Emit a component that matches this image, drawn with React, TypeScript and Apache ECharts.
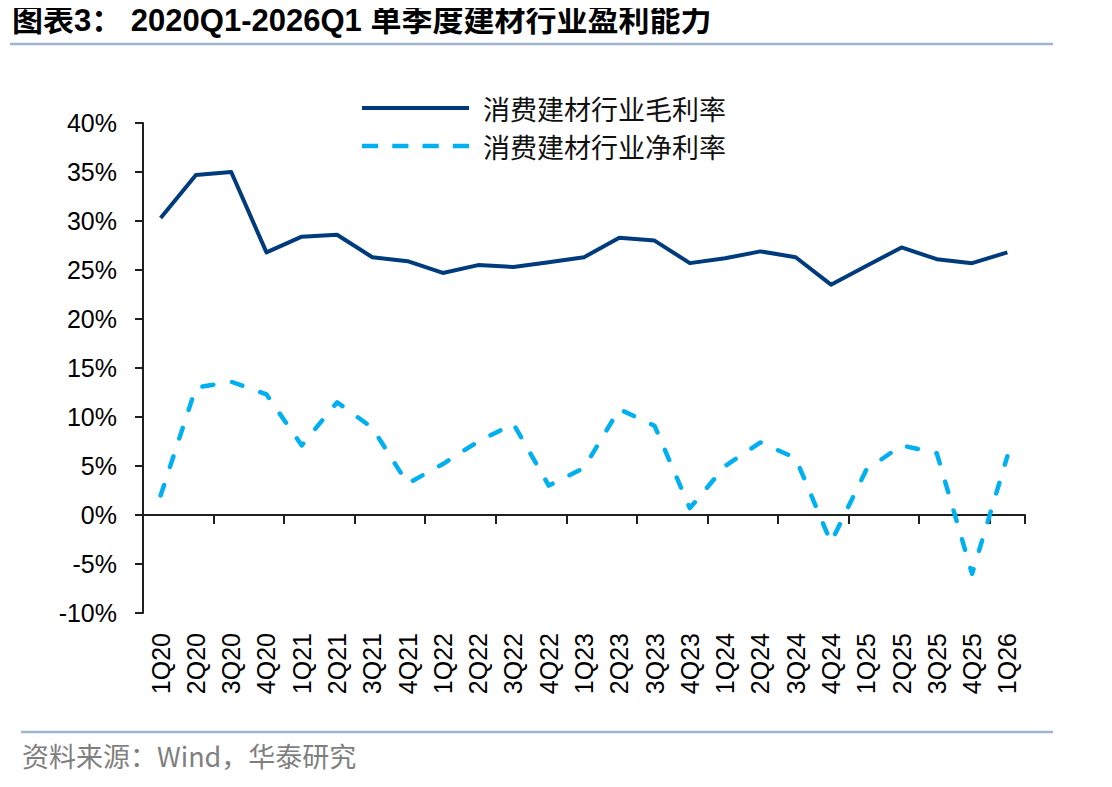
import React, { useEffect, useRef } from "react";
import * as echarts from "echarts";

const quarters = [
  "1Q20", "2Q20", "3Q20", "4Q20",
  "1Q21", "2Q21", "3Q21", "4Q21",
  "1Q22", "2Q22", "3Q22", "4Q22",
  "1Q23", "2Q23", "3Q23", "4Q23",
  "1Q24", "2Q24", "3Q24", "4Q24",
  "1Q25", "2Q25", "3Q25", "4Q25",
  "1Q26",
];

// 消费建材行业毛利率 (%)
const grossMargin = [
  30.3, 34.7, 35.0, 26.8,
  28.4, 28.6, 26.3, 25.9,
  24.7, 25.5, 25.3, 25.8,
  26.3, 28.3, 28.0, 25.7,
  26.2, 26.9, 26.3, 23.5,
  25.4, 27.3, 26.1, 25.7,
  26.8,
];

// 消费建材行业净利率 (%)
const netMargin = [
  2.0, 13.0, 13.6, 12.3,
  7.1, 11.5, 8.9, 3.2,
  5.2, 7.5, 9.3, 3.0,
  4.8, 10.8, 9.1, 0.7,
  5.0, 7.4, 5.8, -2.8,
  4.6, 7.1, 6.3, -6.0,
  6.0,
];

const yTicks = { min: -10, max: 40, step: 5 };

const titleText = "图表3： 2020Q1-2026Q1 单季度建材行业盈利能力";
const sourceText = "资料来源：Wind，华泰研究";
const seriesNames = ["消费建材行业毛利率", "消费建材行业净利率"];

const latin = "'Liberation Sans', Arial, 'Noto Sans CJK SC', sans-serif";
const cjk = "'Noto Sans CJK SC', 'Liberation Sans', sans-serif";
const axisColor = "#1f1f1f";
const ruleColor = "#9fb4cf";

// Legend swatches: a solid bar and four short dashes
const solidIcon = "path://M0,0H107V4H0Z";
const dashedIcon =
  "path://M0,0H16V4.5H0Z M30,0H46V4.5H30Z M60,0H76V4.5H60Z M90,0H106V4.5H90Z";

export default function App() {
  const ref = useRef<HTMLDivElement>(null);

  useEffect(() => {
    if (!ref.current) return;
    const chart = echarts.init(ref.current, undefined, { renderer: "svg" });

    chart.setOption({
      animation: false,
      backgroundColor: "#ffffff",
      title: {
        text: titleText,
        left: 12,
        top: 5,
        padding: 0,
        textStyle: {
          fontFamily: latin,
          fontSize: 31,
          fontWeight: "bold",
          color: "#000000",
        },
      },
      graphic: [
        {
          type: "line",
          shape: { x1: 10, y1: 44, x2: 1053, y2: 44 },
          style: { stroke: ruleColor, lineWidth: 2.5 },
        },
        {
          type: "line",
          shape: { x1: 21, y1: 732, x2: 1053, y2: 732 },
          style: { stroke: ruleColor, lineWidth: 2.5 },
        },
        {
          type: "text",
          left: 22,
          top: 742,
          style: {
            text: sourceText,
            fontFamily: cjk,
            fontSize: 27,
            fill: "#7f7f7f",
          },
        },
      ],
      legend: {
        orient: "vertical",
        left: 362,
        top: 92,
        padding: 0,
        itemGap: 6,
        itemWidth: 107,
        itemHeight: 14,
        textStyle: {
          fontFamily: cjk,
          fontSize: 27,
          color: "#111111",
          lineHeight: 32,
          padding: [0, 0, 0, 9],
        },
        data: [
          { name: seriesNames[0], icon: solidIcon },
          { name: seriesNames[1], icon: dashedIcon },
        ],
      },
      grid: {
        left: 143,
        right: 87,
        top: 123,
        bottom: 174,
        containLabel: false,
      },
      xAxis: [
        {
          type: "category",
          data: quarters,
          boundaryGap: true,
          axisLine: { onZero: true, lineStyle: { color: axisColor, width: 2 } },
          axisTick: { show: true, length: 9, lineStyle: { color: axisColor, width: 2 } },
          axisLabel: { show: false },
          splitLine: { show: false },
        },
        {
          type: "category",
          data: quarters,
          position: "bottom",
          boundaryGap: true,
          axisLine: { show: false, onZero: false },
          axisTick: { show: false },
          axisLabel: {
            rotate: 90,
            margin: 20,
            interval: 0,
            fontFamily: latin,
            fontSize: 25,
            color: "#000000",
          },
          splitLine: { show: false },
        },
      ],
      yAxis: {
        type: "value",
        min: yTicks.min,
        max: yTicks.max,
        interval: yTicks.step,
        axisLine: { show: true, lineStyle: { color: axisColor, width: 2 } },
        axisTick: { show: true, length: 8, lineStyle: { color: axisColor, width: 2 } },
        axisLabel: {
          formatter: "{value}%",
          margin: 26,
          fontFamily: latin,
          fontSize: 25,
          color: "#000000",
        },
        splitLine: { show: false },
      },
      series: [
        {
          name: seriesNames[0],
          type: "line",
          xAxisIndex: 0,
          data: grossMargin,
          symbol: "none",
          itemStyle: { color: "#003b7d" },
          lineStyle: { color: "#003b7d", width: 4, join: "round" },
        },
        {
          name: seriesNames[1],
          type: "line",
          xAxisIndex: 0,
          data: netMargin,
          symbol: "none",
          itemStyle: { color: "#00b0f0" },
          lineStyle: {
            color: "#00b0f0",
            width: 4.5,
            type: [11, 19],
            cap: "round",
            join: "round",
          },
        },
      ],
    });

    return () => chart.dispose();
  }, []);

  return <div ref={ref} style={{ width: 1112, height: 787, margin: -8 }} />;
}
